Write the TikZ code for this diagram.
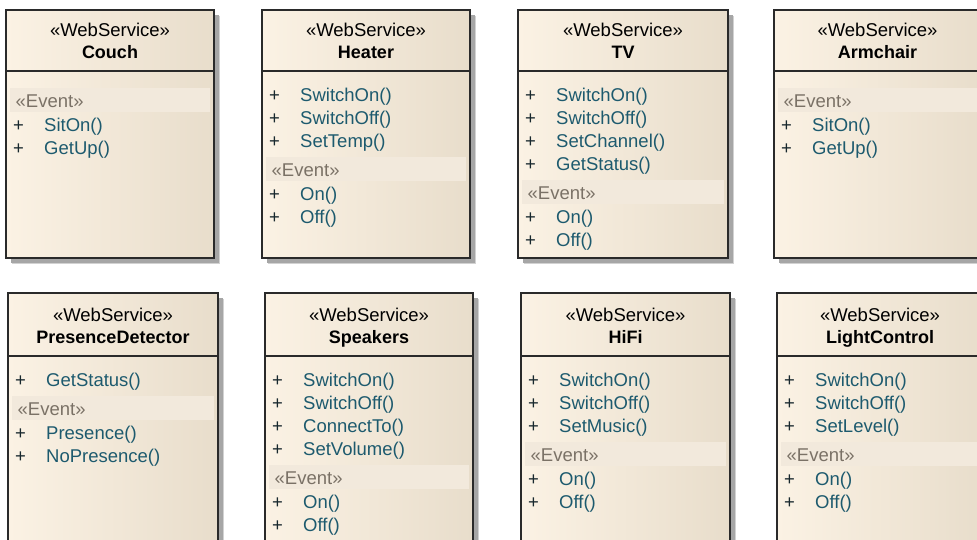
\documentclass[tikz,border=0pt]{standalone}
\usepackage{fontspec}
\setmainfont{Liberation Sans}

\definecolor{boxleft}{HTML}{FBF2E4}
\definecolor{boxright}{HTML}{E8DDCB}
\definecolor{bandfill}{HTML}{F2E9DC}
\definecolor{framecol}{HTML}{2A2A2A}
\definecolor{opcol}{HTML}{1D5A6E}
\definecolor{pluscol}{HTML}{18282E}
\definecolor{evcol}{HTML}{7A7166}
\definecolor{shadowdark}{HTML}{A6A6A6}
\definecolor{shadowlight}{HTML}{D2D2D2}

\tikzset{
  classbox/.style={rectangle, draw=framecol, line width=1.4pt,
    left color=boxleft, right color=boxright, inner sep=0pt, outer sep=0pt,
    preaction={fill=shadowlight, transform canvas={shift={(6pt,-6pt)}}},
    preaction={fill=shadowdark, transform canvas={shift={(4.5pt,-4.5pt)}}}},
  divline/.style={draw=framecol, line width=1.4pt},
  band/.style={fill=bandfill},
  umltext/.style={inner sep=0pt, anchor=base, font=\fontsize{18.5}{22}\selectfont},
  stereo/.style={umltext, text=black},
  cname/.style={umltext, text=black, font=\bfseries\fontsize{18}{22}\selectfont},
  plus/.style={umltext, text=pluscol},
  op/.style={umltext, anchor=base west, text=opcol},
  evtitle/.style={umltext, anchor=base west, text=evcol},
}

% #1 id, #2 left, #3 top, #4 right, #5 bottom, #6 header divider,
% #7 class name, #8 operations, #9 events
\newcommand\umlclass[9]{%
  \node[classbox, anchor=north west, minimum width={#4-#2}, minimum height={#5-#3}] (#1) at (#2,#3) {};
  \draw[divline] (#2,#6) -- (#4,#6);
  \node[stereo] (#1-st) at ({(#2+#4)/2},{#6-35}) {«WebService»};
  \node[cname] (#1-nm) at ({(#2+#4)/2},{#6-13}) {#7};
  \def\nops{0}%
  \if\relax\detokenize{#8}\relax\else
    \foreach \m [count=\i] in {#8} {
      \pgfmathsetmacro\yy{#6+30.5+23*(\i-1)}
      \node[plus] (#1-p\i) at ({#2+12.5},\yy) {+};
      \node[op] (#1-o\i) at ({#2+38},\yy) {\m};
      \xdef\nops{\i}
    }%
  \fi
  \pgfmathsetmacro\bandc{#6+30.5+23*\nops}
  \fill[band] ({#2+4},{\bandc-13.5}) rectangle ({#4-4},{\bandc+10.5});
  \node[evtitle] (#1-ev) at ({#2+9.5},{\bandc+6}) {«Event»};
  \foreach \e [count=\j] in {#9} {
    \pgfmathsetmacro\yy{\bandc+29.5+23*(\j-1)}
    \node[plus] (#1-q\j) at ({#2+12.5},\yy) {+};
    \node[op] (#1-e\j) at ({#2+38},\yy) {\e};
  }%
}

\begin{document}
\begin{tikzpicture}[x=1pt, y=-1pt]
  \useasboundingbox (0,0) rectangle (977,539);
  \clip (0,0) rectangle (977,539);
  \fill[white] (0,0) rectangle (977,539);

  % upper row
  \umlclass{couch}{6}{10}{214}{258}{71}{Couch}{}{SitOn(),GetUp()}
  \umlclass{heater}{262}{10}{470}{258}{71}{Heater}{SwitchOn(),SwitchOff(),SetTemp()}{On(),Off()}
  \umlclass{tv}{518}{10}{728}{258}{71}{TV}{SwitchOn(),SwitchOff(),SetChannel(),GetStatus()}{On(),Off()}
  \umlclass{armchair}{774}{10}{981}{258}{71}{Armchair}{}{SitOn(),GetUp()}

  % lower row
  \umlclass{presence}{8}{293}{218}{570}{356}{PresenceDetector}{GetStatus()}{Presence(),NoPresence()}
  \umlclass{speakers}{265}{293}{473}{570}{356}{Speakers}{SwitchOn(),SwitchOff(),ConnectTo(),SetVolume()}{On(),Off()}
  \umlclass{hifi}{521}{293}{730}{570}{356}{HiFi}{SwitchOn(),SwitchOff(),SetMusic()}{On(),Off()}
  \umlclass{light}{777}{293}{983}{570}{356}{LightControl}{SwitchOn(),SwitchOff(),SetLevel()}{On(),Off()}
\end{tikzpicture}
\end{document}
